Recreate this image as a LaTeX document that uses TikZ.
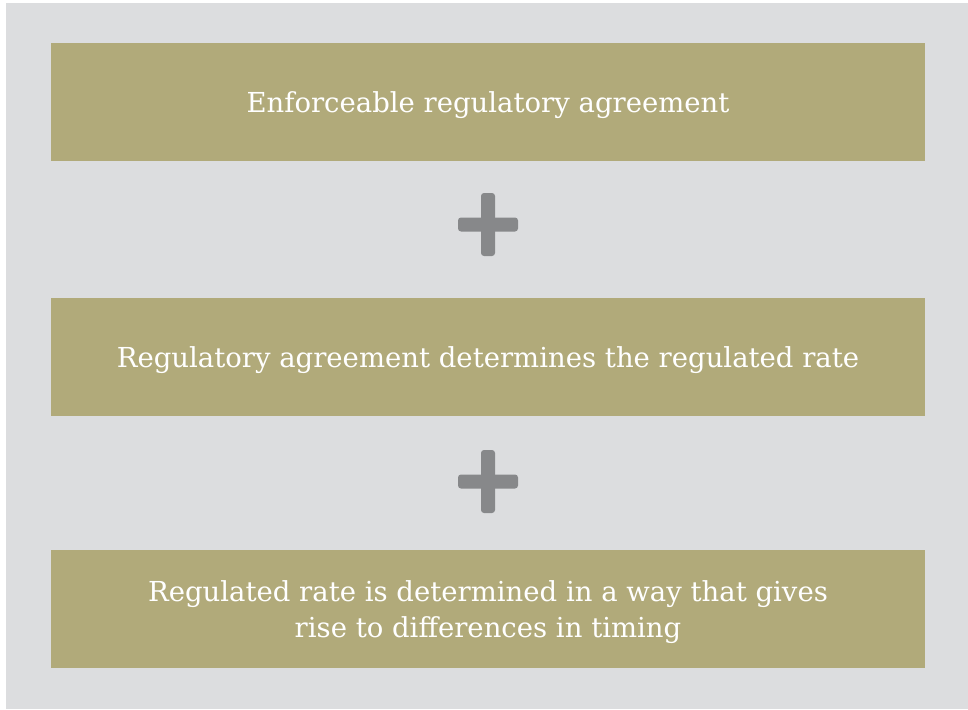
\documentclass[tikz,border=0pt]{standalone}
\usepackage{fontspec}
\setmainfont{DejaVu Serif}
\definecolor{bggray}{HTML}{DCDDDF}
\definecolor{boxgold}{HTML}{B1AA7A}
\definecolor{plusgray}{HTML}{87888A}
\begin{document}
\begin{tikzpicture}[x=1pt,y=-1pt,
  panel/.style={fill=boxgold, draw=none, minimum width=874pt, minimum height=118pt,
    inner sep=0pt},
  paneltext/.style={inner sep=0pt, text=white, align=center,
    font=\fontsize{27.5}{36}\selectfont},
  plusbar/.style={fill=plusgray, draw=none, rounded corners=3pt}]
\useasboundingbox (0,0) rectangle (968,709);
\fill[white] (0,0) rectangle (968,709);
\fill[bggray] (6,3) rectangle (968,709);
\node[panel] (b1) at (488,102) {};
\node[panel] (b2) at (488,357) {};
\node[panel] (b3) at (488,609) {};
\node[paneltext] (t1) at ([yshift=-3.5pt]b1.center) {Enforceable regulatory agreement};
\node[paneltext] (t2) at ([yshift=-3.5pt]b2.center) {Regulatory agreement determines the regulated rate};
\node[paneltext] (t3) at ([yshift=-3.5pt]b3.center) {Regulated rate is determined in a way that gives\\rise to differences in timing};
% plus signs
\coordinate (p1) at (488,224.5);
\coordinate (p2) at (488,481.5);
\foreach \p in {p1,p2}{
  \fill[plusbar] ([shift={(-30,-7)}]\p) rectangle ([shift={(30,7)}]\p);
  \fill[plusbar] ([shift={(-7,-31.5)}]\p) rectangle ([shift={(7,31.5)}]\p);
}
\end{tikzpicture}
\end{document}
